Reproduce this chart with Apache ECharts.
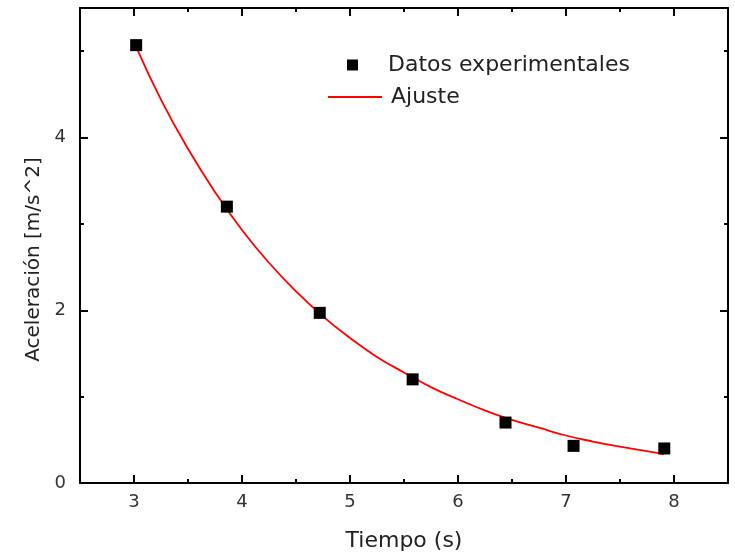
<!DOCTYPE html>
<html>
<head>
<meta charset="utf-8">
<script src="https://cdn.jsdelivr.net/npm/echarts@6/dist/echarts.min.js"></script>
<style>
html,body{margin:0;padding:0;background:#fff;}
#chart{width:735px;height:557px;}
</style>
</head>
<body>
<div id="chart"></div>
<script>
// Experimental data
var timeData = [3.02, 3.86, 4.72, 5.58, 6.44, 7.07, 7.91];
var accelData = [5.07, 3.20, 1.97, 1.20, 0.70, 0.43, 0.40];
// Fitted curve
var fitTime = [3.02, 3.25, 3.5, 3.75, 4.0, 4.25, 4.5, 4.75, 5.0, 5.25, 5.5, 5.75, 6.0, 6.25, 6.5, 6.75, 7.0, 7.25, 7.5, 7.75, 7.91];
var fitAccel = [5.05, 4.44, 3.87, 3.37, 2.93, 2.55, 2.22, 1.93, 1.68, 1.46, 1.28, 1.11, 0.97, 0.84, 0.73, 0.64, 0.55, 0.48, 0.42, 0.37, 0.335];
// Ticks
var xMajorTicks = [3, 4, 5, 6, 7, 8];
var xMinorTicks = [3.5, 4.5, 5.5, 6.5, 7.5];
var yMajorTicks = [0, 2, 4];
var yMinorTicks = [1, 3, 5];
var seriesNames = ['Datos experimentales', 'Ajuste'];
var xTitle = 'Tiempo (s)';
var yTitle = 'Aceleración [m/s^2]';

var FONT = 'DejaVu Sans';
var X_MIN = 2.5, X_MAX = 8.5, Y_MIN = 0, Y_MAX = 5.5;

function pairs(a, b) { return a.map(function (v, i) { return [v, b[i]]; }); }

function xAx(pos, ticks, len, labels, line) {
  return {
    type: 'value', position: pos, min: X_MIN, max: X_MAX,
    axisLine: { show: line, onZero: false, lineStyle: { color: '#000', width: 2 } },
    axisTick: { show: true, inside: true, length: len, customValues: ticks, lineStyle: { color: '#000', width: 2 } },
    axisLabel: { show: labels, customValues: ticks, margin: 10, color: '#333', fontFamily: FONT, fontSize: 18 },
    splitLine: { show: false }
  };
}
function yAx(pos, ticks, len, labels, line) {
  return {
    type: 'value', position: pos, min: Y_MIN, max: Y_MAX,
    axisLine: { show: line, onZero: false, lineStyle: { color: '#000', width: 2 } },
    axisTick: { show: true, inside: true, length: len, customValues: ticks, lineStyle: { color: '#000', width: 2 } },
    axisLabel: { show: labels, customValues: ticks, margin: 14, color: '#333', fontFamily: FONT, fontSize: 18 },
    splitLine: { show: false }
  };
}

var xMain = xAx('bottom', xMajorTicks, 8, true, true);
xMain.name = xTitle;
xMain.nameLocation = 'middle';
xMain.nameGap = 47;
xMain.nameTextStyle = { color: '#222', fontFamily: FONT, fontSize: 22 };

var yMain = yAx('left', yMajorTicks, 8, true, true);
yMain.name = yTitle;
yMain.nameLocation = 'middle';
yMain.nameGap = 33;
yMain.nameTextStyle = { color: '#222', fontFamily: FONT, fontSize: 20, padding: [0, 28, 0, 0] };

var chart = echarts.init(document.getElementById('chart'), null, { renderer: 'canvas' });
chart.setOption({
  animation: false,
  backgroundColor: '#fff',
  grid: { left: 80, right: 7, top: 8, bottom: 71, containLabel: false },
  xAxis: [
    xMain,
    xAx('bottom', xMinorTicks, 4, false, false),
    xAx('top', xMajorTicks, 8, false, true),
    xAx('top', xMinorTicks, 4, false, false)
  ],
  yAxis: [
    yMain,
    yAx('left', yMinorTicks, 4, false, false),
    yAx('right', yMajorTicks, 8, false, true),
    yAx('right', yMinorTicks, 4, false, false)
  ],
  legend: [
    {
      data: [{ name: seriesNames[0], icon: 'rect' }],
      left: 342, top: 49, itemWidth: 11, itemHeight: 11,
      textStyle: { color: '#222', fontFamily: FONT, fontSize: 22, padding: [0, 0, 0, 25] }
    },
    {
      data: [{ name: seriesNames[1], icon: 'rect' }],
      left: 323, top: 81, itemWidth: 54, itemHeight: 2,
      textStyle: { color: '#222', fontFamily: FONT, fontSize: 22, padding: [0, 0, 0, 4] }
    }
  ],
  series: [
    {
      name: seriesNames[1], type: 'line', xAxisIndex: 0, yAxisIndex: 0,
      data: pairs(fitTime, fitAccel), smooth: true, showSymbol: false, symbol: 'none',
      lineStyle: { color: '#ff0000', width: 1.8 }, itemStyle: { color: '#ff0000' }, z: 2
    },
    {
      name: seriesNames[0], type: 'scatter', xAxisIndex: 0, yAxisIndex: 0,
      data: pairs(timeData, accelData), symbol: 'rect', symbolSize: 12,
      itemStyle: { color: '#000', opacity: 1 }, z: 3
    }
  ]
});
</script>
</body>
</html>
